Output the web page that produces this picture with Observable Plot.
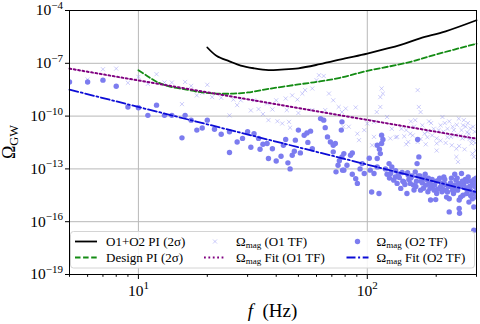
<!DOCTYPE html>
<html>
<head>
<meta charset="utf-8">
<script src="https://cdn.jsdelivr.net/npm/d3@7"></script>
<script src="https://cdn.jsdelivr.net/npm/@observablehq/plot@0.6"></script>
<style>
  html, body { margin: 0; padding: 0; background: #fff; }
  #chart svg { display: block; }
</style>
</head>
<body>
<div id="chart"></div>
<script>
// O1+O2 power-injection sensitivity curve (2σ)
const piFreq  = [20, 22, 25, 28, 32, 37, 42, 50, 62, 80, 100, 140, 170, 220, 300];
const piOmega = [7.9e-7, 2.6e-7, 1.3e-7, 7.4e-8, 5.2e-8, 4.1e-8, 4.4e-8, 5.2e-8, 8.9e-8, 1.9e-7, 3.6e-7, 1.1e-6, 2.6e-6, 6.6e-6, 2.8e-5];

// Design power-injection sensitivity curve (2σ)
const designFreq  = [10, 11, 12, 13.5, 16, 19, 22, 26, 30, 37, 50, 62, 76, 100, 150, 200, 300];
const designOmega = [4.0e-8, 1.8e-8, 8.9e-9, 5.0e-9, 3.3e-9, 2.2e-9, 1.9e-9, 1.9e-9, 2.2e-9, 3.5e-9, 6.3e-9, 9.3e-9, 1.5e-8, 3.7e-8, 1.1e-7, 3.2e-7, 1.3e-6];

// Power-law fits (end points)
const fitO1Freq  = [5, 300];
const fitO1Omega = [5.0e-8, 5.2e-12];
const fitO2Freq  = [5, 300];
const fitO2Omega = [3.2e-9, 4.8e-15];

// Ω_mag from the O1 transfer functions
const o1Freq = [6, 7, 8, 9, 10, 11, 12, 13, 14, 15.5, 16, 17, 18, 19, 20, 21, 23, 25, 26, 27,
  28, 31, 32, 33.5, 35, 36.5, 37, 38.5, 40, 40.5, 42.5, 44, 44.5, 45.5, 46, 47, 49.5, 50, 52, 53.5,
  57.5, 57.5, 60, 61.5, 64.5, 65.5, 68, 71, 75, 77.5, 78.5, 80.5, 83, 89, 90.5, 92, 97, 100, 105, 107,
  107, 110, 114, 114, 115.5, 117, 122, 126, 128, 133, 135, 141, 145, 148, 148, 151, 154, 160, 162, 166,
  166, 168, 171, 171, 174, 178, 183, 183, 186, 190, 195, 201, 201, 201, 209, 209, 213, 215, 224, 224,
  228, 232, 234, 239, 245, 245, 246, 249, 251, 255, 258, 260, 264, 269, 270, 275, 278, 282, 285, 288,
  288, 292, 295, 298, 300,
  155, 158, 180, 192, 205, 218, 220, 236, 242, 252, 262, 266, 273, 280, 290, 296];
const o1Omega = [1.2e-8, 4.6e-8, 5.0e-8, 7.8e-9, 1.7e-8, 6.8e-9, 2.4e-8, 8.1e-9, 8.1e-9, 4.8e-10, 8.7e-9, 5.2e-9, 1.5e-9, 2.1e-9, 6.0e-9, 1.2e-9, 1.1e-9, 1.1e-10, 8.7e-10, 4.2e-10,
  7.9e-10, 2.1e-10, 7.9e-10, 2.5e-10, 1.3e-10, 5.2e-10, 5.9e-11, 2.4e-10, 7.9e-10, 5.1e-11, 3.8e-11, 1.0e-9, 2.2e-10, 4.7e-11, 2.2e-11, 1.5e-9, 8.7e-10, 1.5e-10, 1.9e-9, 3.0e-9,
  3.7e-9, 2.2e-10, 1.1e-8, 2.1e-8, 1.9e-8, 2.2e-10, 1.9e-9, 7.9e-10, 3.3e-10, 1.7e-10, 2.5e-11, 2.7e-10, 2.5e-11, 3.1e-10, 1.0e-11, 4.3e-12, 1.6e-11, 3.8e-11, 2.2e-12, 4.7e-11,
  6.6e-12, 1.7e-10, 3.3e-10, 1.2e-9, 3.7e-9, 1.9e-9, 8.9e-11, 5.4e-12, 1.9e-11, 6.3e-12, 6.6e-12, 1.9e-11, 7.1e-12, 1.6e-11, 2.5e-12, 3.4e-12, 1.0e-11, 2.5e-11, 5.9e-11, 3.0e-9,
  3.4e-12, 3.3e-10, 1.7e-10, 5.0e-12, 3.0e-11, 1.0e-11, 1.3e-11, 6.3e-12, 5.0e-11, 4.0e-11, 1.9e-11, 5.4e-12, 2.8e-12, 1.1e-12, 3.0e-11, 4.0e-12, 8.9e-11, 1.3e-11, 1.9e-11, 6.3e-12,
  5.0e-11, 6.6e-12, 2.2e-12, 1.6e-11, 1.4e-12, 4.8e-13, 3.2e-11, 2.5e-13, 7.2e-11, 7.9e-12, 1.6e-11, 5.4e-12, 5.9e-11, 2.5e-11, 6.3e-12, 4.0e-11, 1.0e-11, 2.0e-11, 2.8e-12, 4.3e-12,
  7.4e-13, 4.8e-13, 1.3e-11, 1.1e-12, 5.0e-12,
  5.0e-11, 8.0e-12, 2.5e-12, 8.0e-12, 1.6e-11, 4.0e-11, 3.0e-12, 2.5e-11, 8.0e-12, 2.0e-12, 3.0e-11, 1.3e-12, 1.2e-11, 5.0e-12, 2.5e-11, 3.0e-12];

// Ω_mag from the O2 transfer functions
const o2Freq = [5, 6, 7, 8, 9, 10, 11, 12, 13, 14, 15.5, 16, 17, 18, 19, 20, 21.5, 23, 25, 25,
  27, 28.5, 30, 31, 32, 33.5, 34, 35, 36.5, 37, 38.5, 40, 42, 43, 44, 45, 46, 47, 48, 48.5,
  50, 51, 53, 54.5, 55, 56.5, 57.5, 62.5, 64.5, 65.5, 67, 69, 71, 71, 72.5, 73, 74.5, 75.5, 77, 77.5,
  77.5, 78, 79, 79, 81.5, 84.5, 86, 86, 89, 90.5, 93, 95, 97, 102, 103, 104.5, 107, 110.5, 110.5, 110.5,
  112.5, 113, 114, 115.5, 115.5, 117, 120, 122, 124.5, 126.5, 128, 130.5, 132.5, 133, 135, 138, 140, 142, 144.5, 146,
  149, 151, 152, 154, 157, 159, 160, 162, 164, 165, 166, 168, 170, 171, 174, 177, 180, 182, 184, 186,
  189, 190, 193, 196, 199, 200, 201, 205, 209, 212, 216, 219, 222, 224, 228, 228, 231, 235, 238, 241,
  244, 248, 252, 252, 253, 255, 258, 262, 264, 268, 270, 272, 276, 278, 282, 285, 288, 290, 292, 292,
  295, 298, 300,
  125, 137, 143, 150, 155, 163, 167, 172, 176, 179, 185, 188, 192, 197, 203, 207, 211, 214, 218, 221,
  226, 233, 236, 240, 243, 247, 250, 256, 260, 266, 274, 280, 283, 287, 293, 297, 299];
const o2Omega = [8.7e-9, 8.7e-9, 1.1e-8, 5.0e-9, 3.3e-10, 3.0e-10, 1.1e-10, 4.2e-10, 1.1e-10, 1.1e-10, 5.8e-12, 1.1e-10, 5.9e-11, 1.6e-11, 2.1e-11, 5.9e-11, 1.8e-11, 9.3e-12, 1.3e-11, 8.5e-13,
  3.4e-12, 5.4e-12, 1.3e-11, 1.7e-12, 1.0e-11, 5.4e-12, 1.3e-12, 2.5e-12, 2.8e-12, 3.9e-13, 1.4e-12, 2.8e-13, 5.2e-13, 2.2e-12, 4.7e-12, 2.2e-13, 1.0e-13, 6.0e-13, 1.0e-12, 4.3e-12,
  1.6e-11, 8.1e-13, 8.1e-12, 1.1e-11, 3.2e-12, 1.4e-11, 1.4e-12, 7.2e-11, 5.9e-11, 2.2e-11, 6.6e-12, 3.4e-12, 2.2e-12, 9.3e-13, 2.8e-12, 6.8e-14, 1.6e-13, 2.9e-13, 1.6e-11, 4.7e-11,
  4.8e-13, 8.5e-14, 7.4e-13, 8.5e-14, 1.6e-13, 6.0e-13, 8.1e-13, 5.0e-14, 2.8e-14, 1.5e-14, 1.0e-13, 2.0e-13, 5.5e-14, 4.0e-13, 8.5e-14, 4.9e-15, 5.5e-14, 1.3e-13, 3.9e-13, 2.2e-12,
  4.0e-15, 1.3e-12, 7.4e-13, 2.8e-12, 8.1e-12, 4.7e-12, 1.0e-13, 5.0e-14, 2.0e-13, 5.5e-14, 1.3e-13, 2.3e-14, 3.5e-14, 7.9e-14, 1.5e-14, 3.2e-14, 7.8e-15, 6.3e-14, 1.8e-14, 1.3e-14,
  4.0e-15, 4.4e-14, 2.5e-14, 1.5e-14, 4.0e-14, 1.2e-14, 6.3e-15, 6.8e-14, 2.0e-14, 2.0e-13, 4.7e-12, 4.8e-13, 4.0e-14, 6.2e-15, 1.6e-14, 2.8e-14, 1.2e-14, 2.5e-14, 5.0e-15, 1.5e-14,
  1.7e-15, 1.3e-14, 1.0e-14, 6.2e-15, 1.8e-15, 2.0e-14, 4.0e-15, 2.3e-14, 9.5e-15, 5.0e-15, 3.5e-14, 1.3e-14, 2.5e-15, 4.9e-15, 2.0e-15, 3.6e-16, 1.6e-14, 9.5e-15, 4.0e-15, 5.0e-14,
  2.3e-14, 6.2e-15, 1.7e-15, 5.6e-16, 3.0e-16, 1.0e-14, 5.5e-14, 3.2e-15, 1.5e-14, 2.5e-14, 7.9e-15, 4.0e-15, 3.5e-14, 1.3e-15, 6.2e-15, 2.0e-14, 2.0e-15, 4.0e-15, 6.9e-16, 3.3e-17,
  1.0e-14, 1.5e-14, 2.5e-15,
  3.0e-14, 5.0e-14, 2.0e-14, 6.0e-14, 3.0e-14, 1.0e-14, 4.0e-14, 2.0e-14, 8.0e-15, 5.0e-14, 3.0e-14, 8.0e-15, 2.5e-14, 1.2e-14, 7.0e-15, 3.0e-14, 1.5e-14, 7.0e-15, 2.5e-14, 6.0e-15,
  1.0e-14, 3.0e-14, 6.0e-15, 1.2e-14, 8.0e-15, 3.0e-14, 1.5e-14, 2.5e-15, 2.0e-14, 9.0e-15, 2.0e-14, 1.0e-14, 3.0e-15, 1.2e-14, 2.5e-14, 5.0e-15, 3.0e-14];

// Axis ticks
const xMajorTicks = [10, 100];
const xMinorTicks = [5, 6, 7, 8, 9, 20, 30, 40, 50, 60, 70, 80, 90, 200, 300];
const yTicks = [1e-19, 1e-16, 1e-13, 1e-10, 1e-7, 1e-4];

// Legend entries
const legendLabels = {
  pi: "O1+O2 PI (2σ)",
  design: "Design PI (2σ)",
  o1: " (O1 TF)",
  o2: " (O2 TF)",
  fitO1: " Fit (O1 TF)",
  fitO2: " Fit (O2 TF)"
};

const zip = (fs, vs) => fs.map((f, i) => ({f, omega: vs[i]}));
const piData = zip(piFreq, piOmega);
const designData = zip(designFreq, designOmega);
const fitO1 = zip(fitO1Freq, fitO1Omega);
const fitO2 = zip(fitO2Freq, fitO2Omega);
const o1Data = zip(o1Freq, o1Omega);
const o2Data = zip(o2Freq, o2Omega);

const FONT = "'Liberation Serif', 'DejaVu Serif', serif";
const C = {
  pi: "#000000",
  design: "#148c14",
  o1: "#9a9af6",
  o2: "#7c7cef",
  fitO1: "#800080",
  fitO2: "#0c0cd6",
  grid: "#b8b8b8"
};
const O1_OPACITY = 0.5;
const sup = (d) => "10^" + String(Math.round(Math.log10(d))).replace("-", "\u2212");

const plot = Plot.plot({
  width: 480,
  height: 324,
  marginLeft: 69,
  marginRight: 4,
  marginTop: 10,
  marginBottom: 50,
  style: {fontFamily: FONT, fontSize: "15.5px", background: "#fff", color: "#000"},
  x: {type: "log", domain: [5, 300], label: null},
  y: {type: "log", domain: [1e-19, 1e-4], label: null},
  marks: [
    Plot.gridX(xMajorTicks, {stroke: C.grid, strokeOpacity: 1, strokeWidth: 1}),
    Plot.gridY(yTicks, {stroke: C.grid, strokeOpacity: 1, strokeWidth: 1}),
    Plot.dot(o1Data, {x: "f", y: "omega", symbol: "times", r: 2, stroke: C.o1, strokeOpacity: O1_OPACITY, strokeWidth: 1, clip: true}),
    Plot.dot(o2Data, {x: "f", y: "omega", r: 2.7, fill: C.o2, stroke: "none", clip: true}),
    Plot.line(piData, {x: "f", y: "omega", stroke: C.pi, strokeWidth: 1.8, curve: "catmull-rom"}),
    Plot.line(designData, {x: "f", y: "omega", stroke: C.design, strokeWidth: 1.8, strokeDasharray: "5.5,2.6", curve: "catmull-rom"}),
    Plot.line(fitO1, {x: "f", y: "omega", stroke: C.fitO1, strokeWidth: 2, strokeDasharray: "1.8,2.6"}),
    Plot.line(fitO2, {x: "f", y: "omega", stroke: C.fitO2, strokeWidth: 1.8, strokeDasharray: "9,2.6,2,2.6"}),
    Plot.frame({stroke: "#000", strokeWidth: 1}),
    Plot.axisX(xMajorTicks, {tickSize: 5, tickPadding: 5, tickFormat: sup, label: null}),
    Plot.axisX(xMinorTicks, {tickSize: 2.8, tickFormat: () => "", label: null}),
    Plot.axisY(yTicks, {tickSize: 4, tickPadding: 2.5, tickFormat: sup, label: null})
  ]
});

document.getElementById("chart").appendChild(plot);

const svg = d3.select(plot);

// Turn "10^n" tick labels into a base with a raised exponent
svg.selectAll("text").each(function () {
  const m = /^10\^(.+)$/.exec(this.textContent);
  if (!m) return;
  const t = d3.select(this);
  t.text("10");
  t.append("tspan").attr("dy", "-6.5").attr("font-size", "11px").text(m[1]);
});

const [L, R] = plot.scale("x").range;
const [B, T] = plot.scale("y").range;

// Axis titles
svg.append("text")
  .attr("x", (L + R) / 2).attr("y", B + 43)
  .attr("text-anchor", "middle")
  .attr("font-family", FONT).attr("font-size", 19)
  .call(t => {
    t.append("tspan").attr("font-style", "italic").text("f");
    t.append("tspan").text("\u2002(Hz)");
  });

svg.append("text")
  .attr("transform", `translate(14.5,${(T + B) / 2}) rotate(-90)`)
  .attr("text-anchor", "middle")
  .attr("font-family", FONT).attr("font-size", 18)
  .call(t => {
    t.append("tspan").text("Ω");
    t.append("tspan").attr("font-size", "12.5px").attr("dy", 3).text("GW");
  });

// Legend
const lg = svg.append("g")
  .attr("font-family", FONT).attr("font-size", 13)
  .attr("text-anchor", "start");
lg.append("rect")
  .attr("x", L + 1.5).attr("y", B - 42.5)
  .attr("width", R - L - 3).attr("height", 36.5)
  .attr("rx", 3)
  .attr("fill", "#fff").attr("fill-opacity", 0.85)
  .attr("stroke", "#d4d4d4").attr("stroke-width", 1);

const row1 = B - 32.5, row2 = B - 16.5;
const cols = [L + 6, L + 135, L + 277.5];
const handleLen = 22;

function lineHandle(x, y, color, width, dash) {
  lg.append("line")
    .attr("x1", x).attr("x2", x + handleLen).attr("y1", y).attr("y2", y)
    .attr("stroke", color).attr("stroke-width", width)
    .attr("stroke-dasharray", dash || null);
}
// "Ω" with a lowered "mag" subscript, followed by the rest of the label
function magLabel(x, y, rest) {
  const t = lg.append("text").attr("x", x).attr("y", y).attr("dy", "0.34em");
  t.append("tspan").text("Ω");
  t.append("tspan").attr("font-size", "9px").attr("dy", 2.5).text("mag");
  t.append("tspan").attr("dy", -2.5).text(rest);
}
function plainLabel(x, y, s) {
  lg.append("text").attr("x", x).attr("y", y).attr("dy", "0.34em").text(s);
}

// column 1
lineHandle(cols[0], row1, C.pi, 1.8);
plainLabel(cols[0] + 31, row1, legendLabels.pi);
lineHandle(cols[0], row2, C.design, 1.8, "5.5,2.6");
plainLabel(cols[0] + 31, row2, legendLabels.design);

// column 2
lg.append("path")
  .attr("transform", `translate(${cols[1] + handleLen / 2},${row1})`)
  .attr("d", d3.symbol(d3.symbolTimes, Math.PI * 4)())
  .attr("fill", "none").attr("stroke", C.o1).attr("stroke-opacity", O1_OPACITY);
magLabel(cols[1] + 32, row1, legendLabels.o1);
lineHandle(cols[1], row2, C.fitO1, 2, "1.8,2.6");
magLabel(cols[1] + 32, row2, legendLabels.fitO1);

// column 3
lg.append("circle")
  .attr("cx", cols[2] + handleLen / 2).attr("cy", row1).attr("r", 2.7)
  .attr("fill", C.o2);
magLabel(cols[2] + 30, row1, legendLabels.o2);
lineHandle(cols[2], row2, C.fitO2, 1.8, "9,2.6,2,2.6");
magLabel(cols[2] + 30, row2, legendLabels.fitO2);
</script>
</body>
</html>
